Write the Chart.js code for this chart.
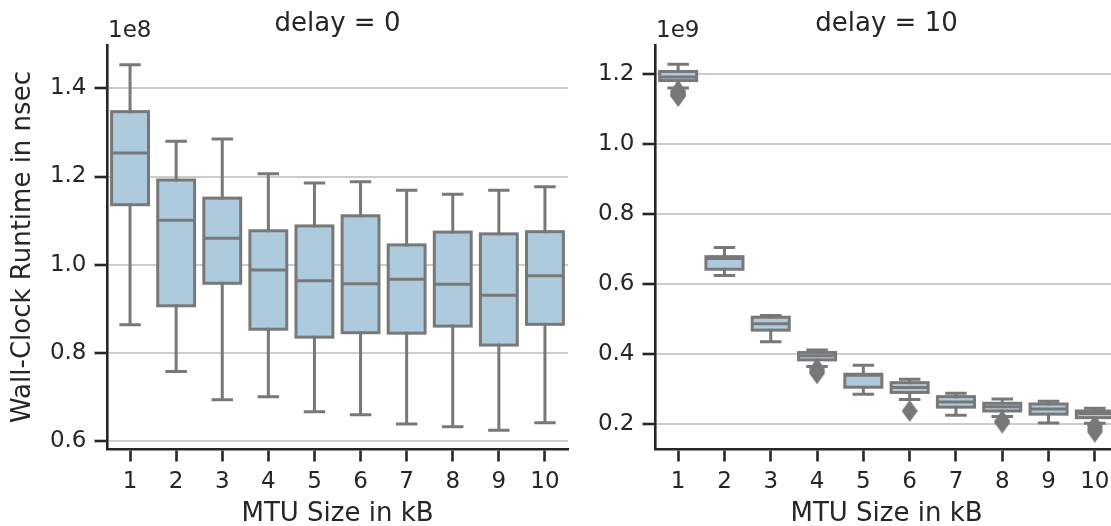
<!DOCTYPE html>
<html>
<head>
<meta charset="utf-8">
<title>MTU size vs runtime</title>
<script src="https://cdn.jsdelivr.net/npm/chart.js@4.4.1/dist/chart.umd.min.js"></script>
<style>
  html, body { margin: 0; padding: 0; background: #fff; overflow: hidden; }
  #wrap { position: relative; width: 1111px; height: 526px; overflow: hidden; }
  #wrap canvas { position: absolute; top: 0; }
</style>
</head>
<body>
<div id="wrap">
  <canvas id="delay0" width="580" height="526" style="left:0"></canvas>
  <canvas id="delay10" width="560" height="526" style="left:580px"></canvas>
</div>
<script>
const mtuSizes = ['1', '2', '3', '4', '5', '6', '7', '8', '9', '10'];

// delay = 0, runtime in units of 1e8 ns
const d0Low    = [0.864, 0.758, 0.694, 0.701, 0.667, 0.660, 0.639, 0.633, 0.625, 0.642];
const d0Q1     = [1.136, 0.907, 0.958, 0.854, 0.836, 0.846, 0.845, 0.861, 0.818, 0.865];
const d0Median = [1.253, 1.101, 1.060, 0.988, 0.964, 0.957, 0.967, 0.956, 0.931, 0.975];
const d0Q3     = [1.347, 1.192, 1.151, 1.077, 1.088, 1.111, 1.045, 1.074, 1.070, 1.075];
const d0High   = [1.453, 1.280, 1.285, 1.206, 1.185, 1.188, 1.169, 1.160, 1.169, 1.177];
const d0Ticks  = [0.6, 0.8, 1.0, 1.2, 1.4];

// delay = 10, runtime in units of 1e9 ns
const d10Low    = [1.161, 0.625, 0.436, 0.365, 0.286, 0.271, 0.226, 0.222, 0.204, 0.203];
const d10Q1     = [1.182, 0.643, 0.469, 0.384, 0.306, 0.291, 0.249, 0.238, 0.229, 0.219];
const d10Median = [1.192, 0.674, 0.487, 0.396, 0.340, 0.305, 0.264, 0.250, 0.244, 0.231];
const d10Q3     = [1.208, 0.679, 0.506, 0.405, 0.343, 0.319, 0.279, 0.260, 0.258, 0.238];
const d10High   = [1.229, 0.705, 0.511, 0.412, 0.369, 0.329, 0.289, 0.272, 0.266, 0.246];
const d10Fliers = [
  [1.152, 1.147, 1.142, 1.138], [], [], [0.358, 0.352, 0.346], [],
  [0.238], [], [0.209, 0.205], [], [0.195, 0.187, 0.179]
];
const d10Ticks  = [0.2, 0.4, 0.6, 0.8, 1.0, 1.2];

const INK = '#262626';
const GRID = '#cccccc';
const FACE = '#aecbdd';
const EDGE = '#787878';

Chart.defaults.font.family = '"DejaVu Sans", sans-serif';
Chart.defaults.color = INK;

// thin diamond marker for outliers
function thinDiamond(w, h) {
  const c = document.createElement('canvas');
  c.width = w;
  c.height = h;
  const g = c.getContext('2d');
  g.fillStyle = EDGE;
  g.beginPath();
  g.moveTo(w / 2, 0);
  g.lineTo(w, h / 2);
  g.lineTo(w / 2, h);
  g.lineTo(0, h / 2);
  g.closePath();
  g.fill();
  return c;
}

// whiskers, caps, box outline and median on top of the bar faces,
// plus the panel title and the axis multiplier text
const boxMarks = {
  id: 'boxMarks',
  afterDatasetsDraw(chart, args, opts) {
    const { ctx } = chart;
    const xs = chart.scales.x;
    const ys = chart.scales.y;
    const bars = chart.getDatasetMeta(0).data;
    ctx.save();
    ctx.strokeStyle = EDGE;
    ctx.lineWidth = 3;
    opts.median.forEach((m, i) => {
      const cx = xs.getPixelForValue(i);
      const w = bars[i].width;
      const yLow = ys.getPixelForValue(opts.low[i]);
      const yQ1 = ys.getPixelForValue(opts.q1[i]);
      const yMed = ys.getPixelForValue(m);
      const yQ3 = ys.getPixelForValue(opts.q3[i]);
      const yHigh = ys.getPixelForValue(opts.high[i]);

      ctx.lineCap = 'square';
      ctx.beginPath();
      ctx.moveTo(cx, yQ3); ctx.lineTo(cx, yHigh);
      ctx.moveTo(cx, yQ1); ctx.lineTo(cx, yLow);
      ctx.moveTo(cx - w / 4, yHigh); ctx.lineTo(cx + w / 4, yHigh);
      ctx.moveTo(cx - w / 4, yLow); ctx.lineTo(cx + w / 4, yLow);
      ctx.stroke();

      ctx.lineJoin = 'miter';
      ctx.strokeRect(cx - w / 2, yQ3, w, yQ1 - yQ3);

      ctx.lineCap = 'butt';
      ctx.beginPath();
      ctx.moveTo(cx - w / 2, yMed); ctx.lineTo(cx + w / 2, yMed);
      ctx.stroke();
    });
    ctx.restore();
  },
  afterDraw(chart, args, opts) {
    const { ctx, chartArea } = chart;
    ctx.save();
    ctx.fillStyle = INK;
    ctx.textBaseline = 'alphabetic';
    ctx.font = '26px "DejaVu Sans"';
    ctx.textAlign = 'center';
    ctx.fillText(opts.title, (chartArea.left + chartArea.right) / 2, 31);
    ctx.font = '23px "DejaVu Sans"';
    ctx.textAlign = 'left';
    ctx.fillText(opts.multiplier, chartArea.left + 1, 37);
    ctx.restore();
  }
};

function makePanel(canvasId, cfg) {
  const datasets = [{
    type: 'bar',
    data: cfg.q1.map((q, i) => [q, cfg.q3[i]]),
    backgroundColor: FACE,
    borderWidth: 0,
    barPercentage: 0.8,
    categoryPercentage: 1.0
  }];
  if (cfg.fliers) {
    datasets.push({
      type: 'scatter',
      data: cfg.fliers.flatMap((vals, i) => vals.map(v => ({ x: mtuSizes[i], y: v }))),
      pointStyle: thinDiamond(16, 22),
      pointRadius: 6
    });
  }

  return new Chart(document.getElementById(canvasId), {
    type: 'bar',
    data: { labels: mtuSizes, datasets },
    plugins: [boxMarks],
    options: {
      responsive: false,
      animation: false,
      events: [],
      layout: { padding: { left: 0, top: 45, right: cfg.padRight, bottom: 0 } },
      plugins: {
        legend: { display: false },
        tooltip: { enabled: false },
        boxMarks: {
          title: cfg.title,
          multiplier: cfg.multiplier,
          low: cfg.low, q1: cfg.q1, median: cfg.median, q3: cfg.q3, high: cfg.high
        }
      },
      scales: {
        x: {
          offset: true,
          afterFit: s => { s.height = 77; },
          grid: {
            offset: false,
            drawOnChartArea: false,
            tickLength: 12.5,
            tickColor: INK,
            tickWidth: 2.6
          },
          border: { color: INK, width: 2.6 },
          ticks: { font: { size: 23 }, color: INK, padding: 7 },
          title: {
            display: true,
            text: 'MTU Size in kB',
            font: { size: 26, lineHeight: 0.9 },
            color: INK,
            padding: { top: 0, bottom: 0 }
          }
        },
        y: {
          min: cfg.yMin,
          max: cfg.yMax,
          afterFit: s => { s.width = cfg.yWidth; },
          afterBuildTicks: s => { s.ticks = cfg.ticks.map(v => ({ value: v })); },
          grid: {
            color: GRID,
            lineWidth: 2,
            tickLength: 12.5,
            tickColor: INK,
            tickWidth: 2.6
          },
          border: { color: INK, width: 2.6 },
          ticks: {
            font: { size: 23 },
            color: INK,
            padding: 8,
            callback: v => v.toFixed(1)
          },
          title: {
            display: !!cfg.yTitle,
            text: cfg.yTitle,
            font: { size: 26 },
            color: INK,
            padding: { top: 8, bottom: 0 }
          }
        }
      }
    }
  });
}

makePanel('delay0', {
  title: 'delay = 0',
  multiplier: '1e8',
  low: d0Low, q1: d0Q1, median: d0Median, q3: d0Q3, high: d0High,
  ticks: d0Ticks,
  yMin: 0.5825, yMax: 1.498,
  yWidth: 107,
  padRight: 12,
  yTitle: 'Wall-Clock Runtime in nsec'
});

makePanel('delay10', {
  title: 'delay = 10',
  multiplier: '1e9',
  low: d10Low, q1: d10Q1, median: d10Median, q3: d10Q3, high: d10High,
  fliers: d10Fliers,
  ticks: d10Ticks,
  yMin: 0.1294, yMax: 1.2837,
  yWidth: 75,
  padRight: 22
});
</script>
</body>
</html>
